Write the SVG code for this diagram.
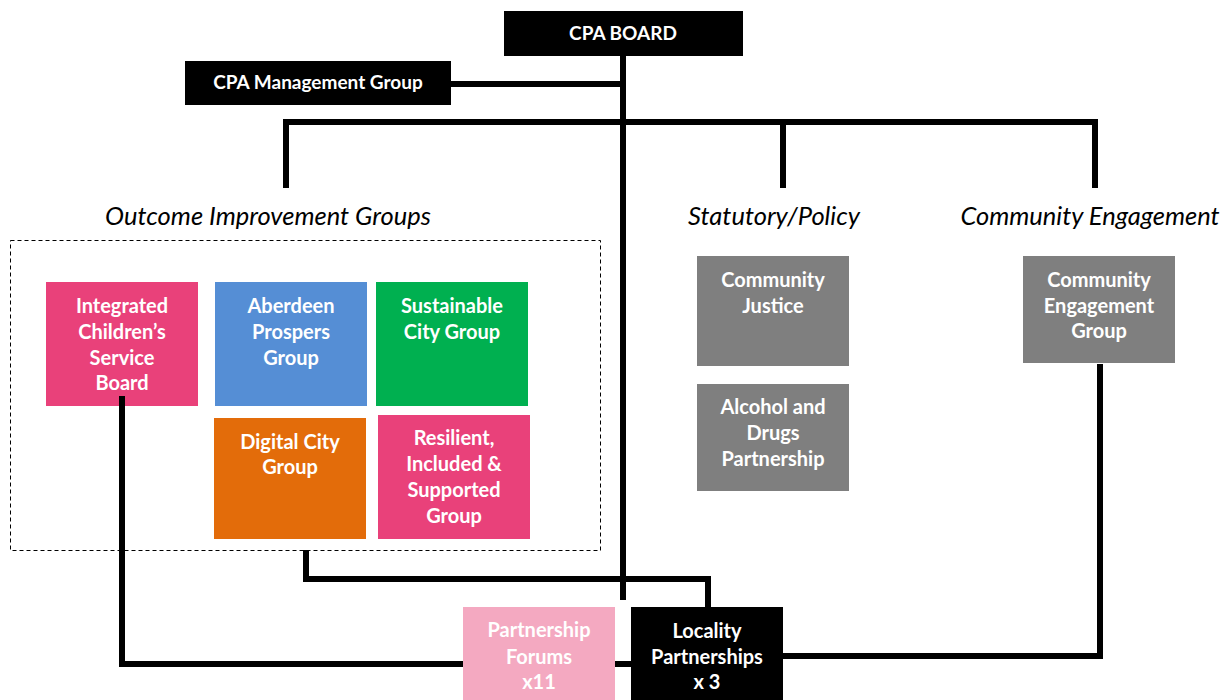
<svg xmlns="http://www.w3.org/2000/svg" width="1232" height="700" viewBox="0 0 1232 700">
<style>
.t{font-family:Lato,"Liberation Sans",sans-serif;font-weight:bold;font-size:20px;fill:#fff;text-anchor:middle}
.h{font-size:19px}
.lbl{font-family:Lato,"Liberation Sans",sans-serif;font-style:italic;font-size:25.5px;fill:#000;text-anchor:middle}
.c{fill:none;stroke:#000;stroke-width:6;stroke-linejoin:miter}
.pink{fill:#E9417A}.blue{fill:#558ED5}.green{fill:#00B050}.orange{fill:#E36C0A}.gray{fill:#7F7F7F}.lpink{fill:#F4A9C1}.black{fill:#000}
</style>
<rect width="1232" height="700" fill="#fff"/>
<g id="connectors">
<path class="c" d="M623 56V600"/>
<path class="c" d="M451 84H623"/>
<path class="c" d="M286 188V122H1095V188"/>
<path class="c" d="M783 122V188"/>
<path class="c" d="M122 396V664H631"/>
<path class="c" d="M306 550V579H708V607"/>
<path class="c" d="M1100 364V656H783"/>
</g>
<g id="labels">
<text class="lbl" x="268" y="225">Outcome Improvement Groups</text>
<text class="lbl" x="774" y="225">Statutory/Policy</text>
<text class="lbl" x="1090" y="225">Community Engagement</text>
</g>
<g id="oig-frame"><rect x="10.5" y="240.5" width="590" height="310" fill="none" stroke="#000" stroke-width="1" stroke-dasharray="4,3"/></g>
<g id="cpa-board"><rect class="black" x="504" y="11" width="239" height="45"/><text class="t h" x="623" y="40">CPA BOARD</text></g>
<g id="cpa-mgmt"><rect class="black" x="185" y="61" width="266" height="44"/><text class="t h" x="318" y="89">CPA Management Group</text></g>
<g id="icsb"><rect class="pink" x="46" y="282" width="152" height="124"/><text class="t" x="122" y="313">Integrated</text><text class="t" x="122" y="339">Children’s</text><text class="t" x="122" y="365">Service</text><text class="t" x="122" y="390">Board</text></g>
<g id="icsb-line"><path class="c" d="M122 396V406"/></g>
<g id="apg"><rect class="blue" x="215" y="282" width="152" height="124"/><text class="t" x="291" y="313">Aberdeen</text><text class="t" x="291" y="339">Prospers</text><text class="t" x="291" y="365">Group</text></g>
<g id="scg"><rect class="green" x="376" y="282" width="152" height="124"/><text class="t" x="452" y="313">Sustainable</text><text class="t" x="452" y="339">City Group</text></g>
<g id="dcg"><rect class="orange" x="214" y="418" width="152" height="121"/><text class="t" x="290" y="449">Digital City</text><text class="t" x="290" y="474">Group</text></g>
<g id="ris"><rect class="pink" x="378" y="415" width="152" height="124"/><text class="t" x="454" y="445">Resilient,</text><text class="t" x="454" y="471">Included &amp;</text><text class="t" x="454" y="497">Supported</text><text class="t" x="454" y="523">Group</text></g>
<g id="cj"><rect class="gray" x="697" y="256" width="152" height="110"/><text class="t" x="773" y="287">Community</text><text class="t" x="773" y="313">Justice</text></g>
<g id="adp"><rect class="gray" x="697" y="384" width="152" height="107"/><text class="t" x="773" y="414">Alcohol and</text><text class="t" x="773" y="440">Drugs</text><text class="t" x="773" y="466">Partnership</text></g>
<g id="ceg"><rect class="gray" x="1023" y="256" width="152" height="107"/><text class="t" x="1099" y="287">Community</text><text class="t" x="1099" y="313">Engagement</text><text class="t" x="1099" y="338">Group</text></g>
<g id="pf"><rect class="lpink" x="463" y="607" width="152" height="93"/><text class="t" x="539" y="637">Partnership</text><text class="t" x="539" y="664">Forums</text><text class="t" x="539" y="689">x11</text></g>
<g id="lp"><rect class="black" x="631" y="607" width="152" height="93"/><text class="t" x="707" y="638">Locality</text><text class="t" x="707" y="664">Partnerships</text><text class="t" x="707" y="689">x 3</text></g>
</svg>
